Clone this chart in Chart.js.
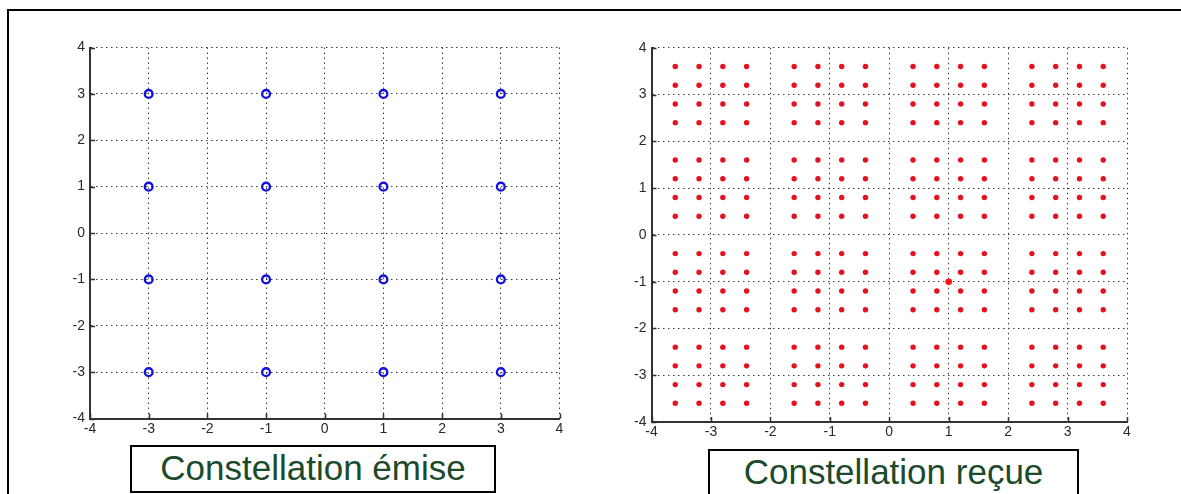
<!DOCTYPE html>
<html>
<head>
<meta charset="utf-8">
<script src="https://cdn.jsdelivr.net/npm/chart.js@4/dist/chart.umd.min.js"></script>
<style>
  html, body { margin: 0; padding: 0; background: #fff; overflow: hidden; }
  #page { position: relative; width: 1181px; height: 494px; overflow: hidden; background: #fff; }
  #frame { position: absolute; left: 7px; top: 9px; width: 1180px; height: 500px;
           border-left: 2px solid #000; border-top: 2px solid #000; }
  canvas { position: absolute; top: 0; }
  .caption { position: absolute; border: 2px solid #000; box-sizing: border-box; background: #fff;
             font-family: "Liberation Sans", Arial, sans-serif; font-size: 35px; color: #1c4a2c;
             text-align: center; }
</style>
</head>
<body>
<div id="page">
  <div id="frame"></div>
  <canvas id="sent" width="600" height="494" style="left:0px"></canvas>
  <canvas id="recv" width="581" height="494" style="left:600px"></canvas>
  <div class="caption" style="left:130px; top:445px; width:366px; height:48px; line-height:42px;">Constellation émise</div>
  <div class="caption" style="left:708px; top:449px; width:371px; height:60px; line-height:42px;">Constellation reçue</div>
</div>
<script>
// Symbol levels on each axis (I and Q)
const sentLevels = [-3, -1, 1, 3];
const recvLevels = [-3.6, -3.2, -2.8, -2.4, -1.6, -1.2, -0.8, -0.4, 0.4, 0.8, 1.2, 1.6, 2.4, 2.8, 3.2, 3.6];
// Isolated received sample
const strayI = [1];
const strayQ = [-1];
// Axis ticks
const axisTicks = [-4, -3, -2, -1, 0, 1, 2, 3, 4];

function gridPoints(levels) {
  const pts = [];
  for (const q of levels) for (const i of levels) pts.push({ x: i, y: q });
  return pts;
}

const AXIS_COLOR = '#333';
const LABEL_FONT = { family: '"Liberation Sans", Arial, sans-serif', size: 14 };

// Short inward tick marks on the left and bottom axes
const inwardTicks = {
  id: 'inwardTicks',
  afterDatasetsDraw(chart) {
    const { ctx, chartArea, scales } = chart;
    ctx.save();
    ctx.strokeStyle = AXIS_COLOR;
    ctx.lineWidth = 1.5;
    ctx.beginPath();
    for (const v of axisTicks) {
      const px = Math.round(scales.x.getPixelForValue(v)) + 0.5;
      ctx.moveTo(px, chartArea.bottom);
      ctx.lineTo(px, chartArea.bottom - 5);
      const py = Math.round(scales.y.getPixelForValue(v)) + 0.5;
      ctx.moveTo(chartArea.left, py);
      ctx.lineTo(chartArea.left + 5, py);
    }
    ctx.stroke();
    ctx.restore();
  }
};

function axis(fitProp, fitSize, pad) {
  return {
    type: 'linear',
    min: -4, max: 4,
    afterFit: (s) => { s[fitProp] = fitSize; },
    afterBuildTicks: (s) => { s.ticks = axisTicks.map(v => ({ value: v })); },
    ticks: { color: '#2a2a2a', font: LABEL_FONT, padding: pad, autoSkip: false, maxRotation: 0 },
    grid: { color: '#3c3c3c', lineWidth: 1, drawTicks: false },
    border: { display: true, color: AXIS_COLOR, width: 2, dash: [1.5, 3.5] }
  };
}

function makeChart(id, datasets, pad, yWidth, xHeight) {
  new Chart(document.getElementById(id), {
    type: 'scatter',
    data: { datasets },
    options: {
      responsive: false,
      animation: false,
      devicePixelRatio: 1,
      layout: { padding: pad },
      plugins: { legend: { display: false }, tooltip: { enabled: false } },
      scales: {
        x: axis('height', xHeight, 2),
        y: axis('width', yWidth, 5)
      }
    },
    plugins: [inwardTicks]
  });
}

makeChart('sent', [{
  data: gridPoints(sentLevels),
  pointStyle: 'circle',
  pointRadius: 3.9,
  pointBorderWidth: 2.3,
  borderColor: '#1010e0',
  backgroundColor: 'rgba(255,255,255,0)'
}], { left: 30, right: 40.5, top: 47.5, bottom: 45.5 }, 60, 30);

makeChart('recv', [{
  data: gridPoints(recvLevels),
  pointStyle: 'circle',
  pointRadius: 2.7,
  pointBorderWidth: 0,
  backgroundColor: '#e8101e',
  borderColor: '#e8101e'
}, {
  data: strayI.map((v, k) => ({ x: v, y: strayQ[k] })),
  pointStyle: 'circle',
  pointRadius: 3.3,
  pointBorderWidth: 0,
  backgroundColor: '#ff1010',
  borderColor: '#ff1010'
}], { left: 20, right: 54, top: 47.8, bottom: 42 }, 31.5, 30);
</script>
</body>
</html>
